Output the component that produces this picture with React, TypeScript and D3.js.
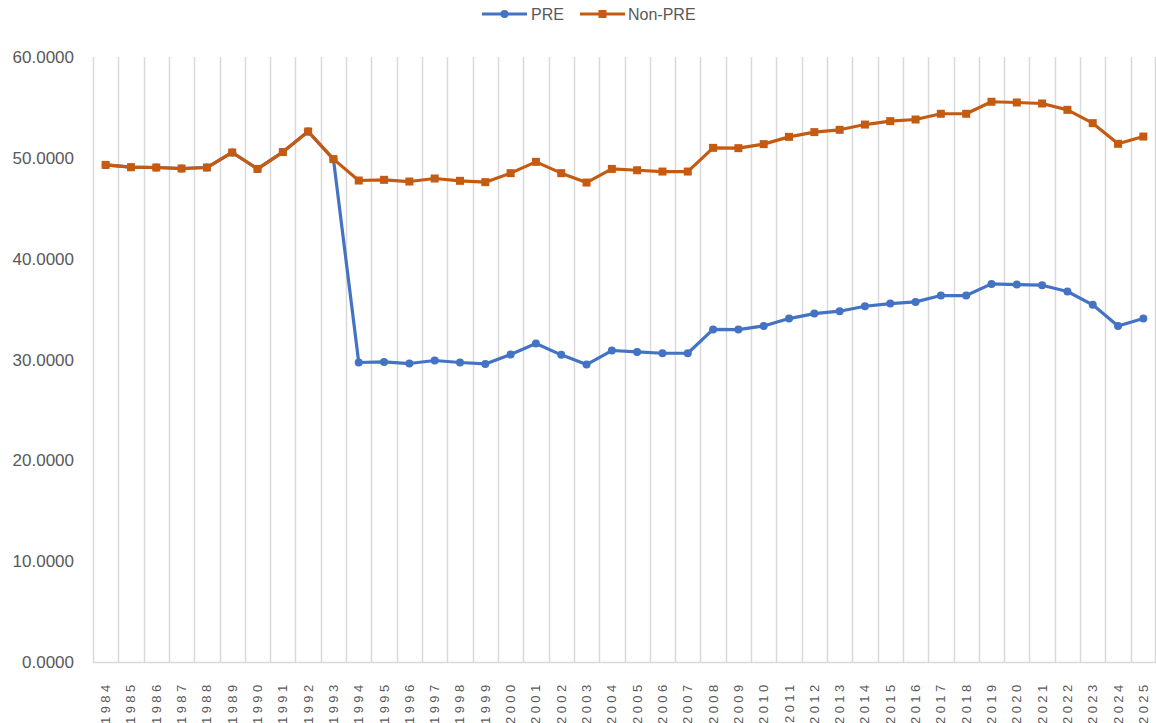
import React, { useEffect, useRef } from 'react';
import * as d3 from 'd3';

const years: string[] = d3.range(1984, 2026).map(String);

const preValues: number[] = [
  49.3, 49.07, 49.04, 48.94, 49.04, 50.53, 48.9, 50.57, 52.61, 49.87,
  29.7, 29.76, 29.6, 29.9, 29.7, 29.56, 30.49, 31.58, 30.46, 29.5,
  30.89, 30.75, 30.62, 30.62, 32.98, 32.97, 33.33, 34.06, 34.55, 34.79,
  35.28, 35.55, 35.71, 36.34, 36.34, 37.5, 37.43, 37.37, 36.74, 35.42,
  33.33, 34.06,
];

const nonPreValues: number[] = [
  49.3, 49.07, 49.04, 48.94, 49.04, 50.53, 48.9, 50.57, 52.61, 49.87,
  47.75, 47.82, 47.65, 47.95, 47.72, 47.59, 48.48, 49.6, 48.48, 47.55,
  48.9, 48.77, 48.64, 48.64, 50.99, 50.96, 51.36, 52.08, 52.55, 52.78,
  53.3, 53.64, 53.8, 54.37, 54.37, 55.56, 55.49, 55.39, 54.76, 53.44,
  51.39, 52.11,
];

const yTicks: number[] = [0, 10, 20, 30, 40, 50, 60];

const BLUE = '#4472C4';
const ORANGE = '#C55A11';
const GRID = '#d9d9d9';
const TEXT = '#595959';
const FONT = '"Liberation Sans", Arial, sans-serif';

const App: React.FC = () => {
  const svgRef = useRef<SVGSVGElement | null>(null);

  useEffect(() => {
    if (!svgRef.current) return;
    const width = 1156;
    const height = 723;
    const margin = { top: 57, right: 0, bottom: 61, left: 93 };

    const svg = d3.select(svgRef.current);
    svg.selectAll('*').remove();
    svg.attr('width', width).attr('height', height);

    const x = d3.scaleBand<string>()
      .domain(years)
      .range([margin.left, width - margin.right])
      .padding(0);

    const y = d3.scaleLinear()
      .domain([0, 60])
      .range([height - margin.bottom, margin.top]);

    const chart = svg.append('g');

    // vertical gridlines between categories
    const bounds = years.map(d => x(d)!).concat([width - margin.right - 1]);
    chart.append('g')
      .selectAll('line')
      .data(bounds)
      .enter()
      .append('line')
      .attr('x1', d => Math.round(d) + 0.5)
      .attr('x2', d => Math.round(d) + 0.5)
      .attr('y1', y(60))
      .attr('y2', y(0))
      .attr('stroke', GRID)
      .attr('stroke-width', 1.5);

    // x axis line
    chart.append('line')
      .attr('x1', margin.left)
      .attr('x2', width - margin.right)
      .attr('y1', Math.round(y(0)) + 0.5)
      .attr('y2', Math.round(y(0)) + 0.5)
      .attr('stroke', GRID)
      .attr('stroke-width', 1.5);

    // y labels
    chart.append('g')
      .selectAll('text')
      .data(yTicks)
      .enter()
      .append('text')
      .attr('x', 74)
      .attr('y', d => y(d))
      .attr('dy', '0.36em')
      .attr('text-anchor', 'end')
      .attr('fill', TEXT)
      .style('font-family', FONT)
      .style('font-size', '17px')
      .text(d => d.toFixed(4));

    // x labels rotated
    chart.append('g')
      .selectAll('text')
      .data(years)
      .enter()
      .append('text')
      .attr('transform', d => `translate(${x(d)! + x.bandwidth() / 2 + 4.5}, ${678 + 3.4}) rotate(-90)`)
      .attr('text-anchor', 'end')
      .attr('fill', TEXT)
      .style('font-family', FONT)
      .style('font-size', '13px')
      .style('letter-spacing', '3.4px')
      .text(d => d);

    const cx = (d: string) => x(d)! + x.bandwidth() / 2;

    const line = d3.line<number>()
      .x((_, i) => cx(years[i]))
      .y(d => y(d));

    // PRE series
    chart.append('path')
      .datum(preValues)
      .attr('fill', 'none')
      .attr('stroke', BLUE)
      .attr('stroke-width', 3.2)
      .attr('stroke-linejoin', 'round')
      .attr('d', line);

    chart.append('g')
      .selectAll('circle')
      .data(preValues)
      .enter()
      .append('circle')
      .attr('cx', (_, i) => cx(years[i]))
      .attr('cy', d => y(d))
      .attr('r', 4)
      .attr('fill', BLUE);

    // Non-PRE series
    chart.append('path')
      .datum(nonPreValues)
      .attr('fill', 'none')
      .attr('stroke', ORANGE)
      .attr('stroke-width', 3.2)
      .attr('stroke-linejoin', 'round')
      .attr('d', line);

    chart.append('g')
      .selectAll('rect')
      .data(nonPreValues)
      .enter()
      .append('rect')
      .attr('x', (_, i) => cx(years[i]) - 4)
      .attr('y', d => y(d) - 4)
      .attr('width', 8)
      .attr('height', 8)
      .attr('fill', ORANGE);

    // legend
    const legend = svg.append('g');
    const ly = 14;
    legend.append('line')
      .attr('x1', 482).attr('x2', 527).attr('y1', ly).attr('y2', ly)
      .attr('stroke', BLUE).attr('stroke-width', 3.2);
    legend.append('circle')
      .attr('cx', 504.5).attr('cy', ly).attr('r', 4).attr('fill', BLUE);
    legend.append('text')
      .attr('x', 531).attr('y', ly).attr('dy', '0.36em')
      .attr('fill', TEXT)
      .style('font-family', FONT)
      .style('font-size', '16px')
      .text('PRE');
    legend.append('line')
      .attr('x1', 580).attr('x2', 625).attr('y1', ly).attr('y2', ly)
      .attr('stroke', ORANGE).attr('stroke-width', 3.2);
    legend.append('rect')
      .attr('x', 602.5 - 4).attr('y', ly - 4).attr('width', 8).attr('height', 8)
      .attr('fill', ORANGE);
    legend.append('text')
      .attr('x', 628).attr('y', ly).attr('dy', '0.36em')
      .attr('fill', TEXT)
      .style('font-family', FONT)
      .style('font-size', '16px')
      .text('Non-PRE');
  }, []);

  return (
    <div style={{ position: 'absolute', left: 0, top: 0, background: '#fff' }}>
      <svg ref={svgRef} style={{ display: 'block' }} />
    </div>
  );
};

export default App;
